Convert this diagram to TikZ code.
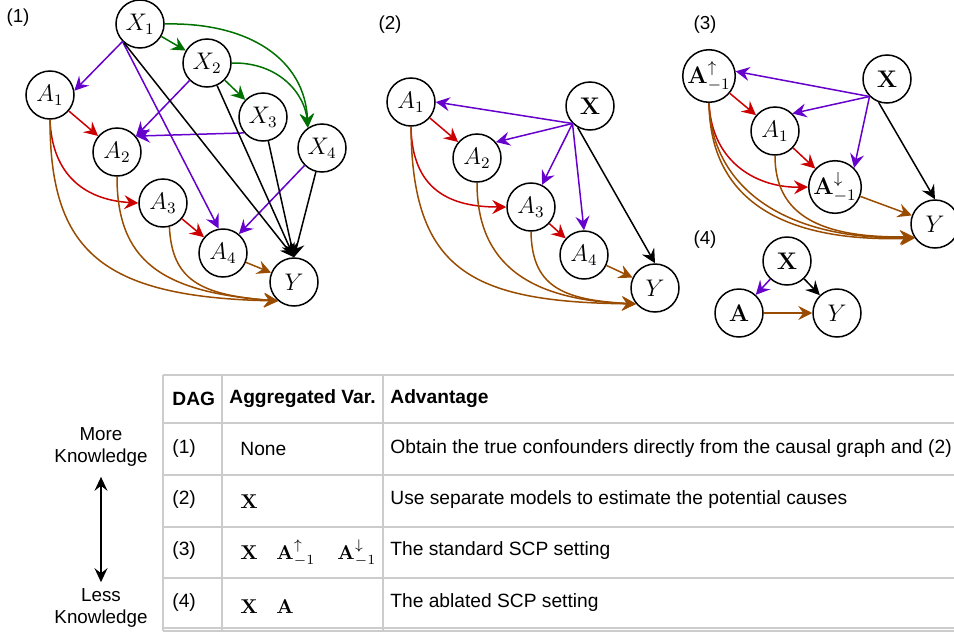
\documentclass[tikz,border=0pt]{standalone}
\usepackage{amsmath, amssymb}
\usepackage[no-math]{fontspec}
\setmainfont{Liberation Sans}
\usetikzlibrary{arrows.meta, calc, positioning}

\definecolor{dagpurple}{RGB}{102,0,204}
\definecolor{dagred}{RGB}{204,0,0}
\definecolor{daggreen}{RGB}{0,112,0}
\definecolor{dagbrown}{RGB}{153,76,0}
\definecolor{tabgray}{RGB}{204,204,204}

\begin{document}
\begin{tikzpicture}[x=0.5pt, y=-0.5pt,
    var/.style={circle, draw, line width=0.75pt, minimum size=24pt, inner sep=0pt, font=\fontsize{12}{14}\selectfont},
    link/.style={line width=0.75pt, -{Stealth[length=7pt, width=7pt, inset=2.5pt]}},
    conf/.style={link, dagpurple},
    treat/.style={link, dagred},
    cov/.style={link, daggreen},
    outc/.style={link, dagbrown},
    tag/.style={font=\fontsize{9.4}{11}\selectfont, inner sep=0pt},
    cell/.style={anchor=west, inner sep=0pt, font=\fontsize{9.6}{11}\selectfont},
    cellmath/.style={anchor=west, inner sep=0pt, font=\fontsize{10}{12}\selectfont},
    rule/.style={tabgray, line width=1pt}]
    
    \useasboundingbox (0,0) rectangle (954,632);
    
    % Panel labels
    \node[tag] (t1) at (18,18) {(1)};
    \node[tag] (t2) at (390,25) {(2)};
    \node[tag] (t3) at (705,25) {(3)};
    \node[tag] (t4) at (705,240) {(4)};
    
    % DAG (1)
    \node[var] (X1) at (140,24) {$X_1$};
    \node[var] (X2) at (207,63) {$X_2$};
    \node[var] (X3) at (263,117) {$X_3$};
    \node[var] (X4) at (322,148) {$X_4$};
    \node[var] (A1) at (50,95) {$A_1$};
    \node[var] (A2) at (117,152) {$A_2$};
    \node[var] (A3) at (163,203) {$A_3$};
    \node[var] (A4) at (223,253) {$A_4$};
    \node[var] (Y) at (294,282) {$Y$};
    
    \draw[cov] (X1) -- (X2);
    \draw[cov] (X2) -- (X3);
    \draw[cov] (X1.east) .. controls (250,22) and (305,60) .. (X4.125);
    \draw[cov] (X2.east) .. controls (280,62) and (305,95) .. (X4.125);
    \draw[conf] (X1.225) -- (A1.10);
    \draw[conf] (X1.225) -- (A4.100);
    \draw[conf] (X2.225) -- (A2.40);
    \draw[conf] (X3.220) -- (A2.40);
    \draw[conf] (X4.225) -- (A4.50);
    \foreach \s in {X1.230, X2, X3, X4}
        \draw[link] (\s) -- (Y.north);
    \draw[treat] (A1) -- (A2);
    \draw[treat] (A3) -- (A4);
    \draw[treat] (A1.south) .. controls (52,175) and (85,200) .. (A3.west);
    \draw[outc] (A1.south) .. controls (50,250) and (100,297) .. (Y.230);
    \draw[outc] (A2.south) .. controls (117,260) and (160,292) .. (Y.230);
    \draw[outc] (A3.-75) .. controls (172,280) and (200,295) .. (Y.230);
    \draw[outc] (A4) -- (Y);
    
    % DAG (2)
    \node[var] (bA1) at (411,102) {$A_1$};
    \node[var] (bX) at (590,106) {$\mathbf{X}$};
    \node[var] (bA2) at (477,158) {$A_2$};
    \node[var] (bA3) at (531,207) {$A_3$};
    \node[var] (bA4) at (584,255) {$A_4$};
    \node[var] (bY) at (655,288) {$Y$};
    
    \draw[conf] (bX.225) -- (bA1.east);
    \draw[conf] (bX.225) -- (bA2.40);
    \draw[conf] (bX.225) -- (bA3);
    \draw[conf] (bX.225) -- (bA4.north);
    \draw[link] (bX.240) -- (bY.north);
    \draw[treat] (bA1) -- (bA2);
    \draw[treat] (bA3) -- (bA4);
    \draw[treat] (bA1.south) .. controls (412,190) and (450,207) .. (bA3.west);
    \draw[outc] (bA1.south) .. controls (412,270) and (470,302) .. (bY.220);
    \draw[outc] (bA2.south) .. controls (477,265) and (530,300) .. (bY.220);
    \draw[outc] (bA3.south) .. controls (532,285) and (560,300) .. (bY.220);
    \draw[outc] (bA4) -- (bY);
    
    % DAG (3)
    \node[var] (cAu) at (709,76) {$\mathbf{A}^{\uparrow}_{-1}$};
    \node[var] (cX) at (887,79) {$\mathbf{X}$};
    \node[var] (cA1) at (775,131) {$A_1$};
    \node[var] (cAd) at (835,187) {$\mathbf{A}^{\downarrow}_{-1}$};
    \node[var] (cY) at (935,224) {$Y$};
    
    \draw[conf] (cX.225) -- (cAu.10);
    \draw[conf] (cX.225) -- (cA1.45);
    \draw[conf] (cX.225) -- (cAd.45);
    \draw[link] (cX.250) -- (cY.north);
    \draw[treat] (cAu) -- (cA1);
    \draw[treat] (cA1) -- (cAd);
    \draw[treat] (cAu.south) .. controls (712,165) and (760,188) .. (cAd.west);
    \draw[outc] (cAu.south) .. controls (710,205) and (790,242) .. (cY.215);
    \draw[outc] (cAu.south) .. controls (712,195) and (795,240) .. (cY.213);
    \draw[outc] (cA1.south) .. controls (775,215) and (820,238) .. (cY.211);
    \draw[outc] (cAd) -- (cY);
    
    % DAG (4)
    \node[var] (dX) at (787,261) {$\mathbf{X}$};
    \node[var] (dA) at (739,313) {$\mathbf{A}$};
    \node[var] (dY) at (837,313) {$Y$};
    
    \draw[conf] (dX) -- (dA);
    \draw[link] (dX) -- (dY);
    \draw[outc] (dA) -- (dY);
    
    % Knowledge axis
    \node[tag, align=center] (more) at (101,447) {More\\Knowledge};
    \node[tag, align=center] (less) at (101,608) {Less\\Knowledge};
    \draw[line width=0.8pt, {Stealth[length=7pt, width=6.5pt, inset=2.5pt]}-{Stealth[length=7pt, width=6.5pt, inset=2.5pt]}, shorten <=5pt, shorten >=3pt] (more) -- (less);
    
    % Table
    \foreach \r in {375,423,475,527,578,628,631}
        \draw[rule] (163,\r) -- (954,\r);
    \foreach \c in {163,222,383}
        \draw[rule] (\c,375) -- (\c,631);
    
    \node[cell] (h1) at (172,399) {\textbf{DAG}};
    \node[cell] (h2) at (229,399) {\textbf{Aggregated Var.}};
    \node[cell] (h3) at (390,399) {\textbf{Advantage}};
    
    \node[cell] (r1) at (172,449) {(1)};
    \node[cell] (v1) at (240,449) {None};
    \node[cell] (g1) at (390,449) {Obtain the true confounders directly from the causal graph and (2)};
    
    \node[cell] (r2) at (172,500) {(2)};
    \node[cellmath] (v2) at (240,502) {$\mathbf{X}$};
    \node[cell] (g2) at (390,500) {Use separate models to estimate the potential causes};
    
    \node[cell] (r3) at (172,551) {(3)};
    \node[cellmath] (v3a) at (240,553) {$\mathbf{X}$};
    \node[cellmath] (v3b) at (276,553) {$\mathbf{A}^{\uparrow}_{-1}$};
    \node[cellmath] (v3c) at (337,553) {$\mathbf{A}^{\downarrow}_{-1}$};
    \node[cell] (g3) at (390,551) {The standard SCP setting};
    
    \node[cell] (r4) at (172,603) {(4)};
    \node[cellmath] (v4a) at (240,607) {$\mathbf{X}$};
    \node[cellmath] (v4b) at (276,607) {$\mathbf{A}$};
    \node[cell] (g4) at (390,603) {The ablated SCP setting};
\end{tikzpicture}
\end{document}
